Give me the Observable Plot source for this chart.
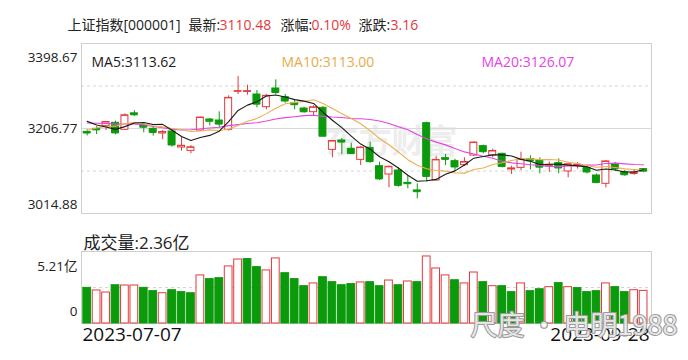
<!DOCTYPE html>
<html><head><meta charset="utf-8">
<script src="https://cdn.jsdelivr.net/npm/d3@7"></script>
<script src="https://cdn.jsdelivr.net/npm/@observablehq/plot@0.6"></script>
<style>
body{margin:0;background:#fff;}
#wrap{position:relative;width:688px;height:360px;overflow:hidden;}
#main,#vol{position:absolute;left:0;}
#main{top:0}
#vol{top:215px}
</style></head><body><div id="wrap"><div id="main"></div><div id="vol"></div></div>
<script>
const dates = ["2023-07-07","2023-07-10","2023-07-11","2023-07-12","2023-07-13","2023-07-14","2023-07-17","2023-07-18","2023-07-19","2023-07-20","2023-07-21","2023-07-24","2023-07-25","2023-07-26","2023-07-27","2023-07-28","2023-07-31","2023-08-01","2023-08-02","2023-08-03","2023-08-04","2023-08-07","2023-08-08","2023-08-09","2023-08-10","2023-08-11","2023-08-14","2023-08-15","2023-08-16","2023-08-17","2023-08-18","2023-08-21","2023-08-22","2023-08-23","2023-08-24","2023-08-25","2023-08-28","2023-08-29","2023-08-30","2023-08-31","2023-09-01","2023-09-04","2023-09-05","2023-09-06","2023-09-07","2023-09-08","2023-09-11","2023-09-12","2023-09-13","2023-09-14","2023-09-15","2023-09-18","2023-09-19","2023-09-20","2023-09-21","2023-09-22","2023-09-25","2023-09-26","2023-09-27","2023-09-28"];
const open = [3199,3206,3212,3219.6,3203.8,3241,3213.5,3206,3195.5,3200,3163.9,3156.3,3202.2,3227.1,3224.8,3203.8,3290.3,3289.5,3283.5,3254.9,3297.1,3277.5,3264,3251.9,3243.6,3253.4,3158.6,3179.7,3160.9,3136,3163.1,3121.7,3102.9,3111.9,3084,3067,3218.8,3089.4,3139.8,3133,3124,3145.8,3166.9,3145.8,3149.6,3114.2,3117.9,3137.5,3134.5,3121,3128.5,3109.7,3123,3117.2,3100.7,3081.9,3125.5,3108.2,3104,3115];
const high = [3204,3211,3222,3223.3,3239.9,3247,3220.3,3209.8,3202.2,3203.8,3187.2,3168.4,3232.4,3229.3,3244.4,3280.5,3324.2,3304.6,3292.6,3283.5,3316.6,3283.5,3271.5,3254.9,3257.9,3256.4,3179.7,3184.2,3173.7,3166.1,3175.9,3130.8,3122,3117.9,3100.7,3081.9,3221.1,3143.6,3148.1,3137.5,3140.6,3176.7,3169.1,3160.1,3151.1,3121.7,3153.3,3145.1,3140.6,3131,3138.3,3127,3130,3122,3104,3134,3130,3112,3112,3116];
const low = [3190,3193,3202,3192.5,3202.2,3234,3197,3189.5,3181.2,3164.6,3155.6,3149.6,3200.7,3212.8,3208.3,3200.7,3283.5,3282,3253.4,3248.9,3283.5,3264,3248.9,3241.4,3236.1,3188.7,3140.6,3148.1,3148.1,3123.2,3128.5,3089.4,3072.8,3074.3,3070.6,3048,3085.6,3087.9,3123.2,3110.4,3121,3143.6,3149.6,3140.6,3117.9,3102.9,3111.9,3113.4,3104.4,3108,3104.4,3095.4,3115,3104,3082,3072.8,3110,3099,3101,3107];
const close = [3196.6,3203.7,3221.4,3196.8,3236.5,3237.7,3209.6,3197.8,3198.8,3169.5,3167.8,3164.2,3231.5,3223.1,3216.7,3275.9,3291.04,3290.95,3261.7,3280.5,3288.1,3268.8,3260.6,3244.5,3254.6,3189.3,3178.4,3176.2,3150.1,3163.7,3132.0,3093.0,3120.3,3078.4,3082.2,3064.1,3098.6,3135.9,3137.1,3119.9,3131,3175,3154.4,3156,3121,3116.7,3137.1,3133.8,3119.5,3124,3117.7,3125.9,3125.0,3108.6,3084.7,3132.4,3115.6,3102.3,3107.3,3110.48];
// volume in 亿
const volume = [2.58,2.39,2.24,2.77,2.75,2.75,2.58,2.34,2.19,2.41,2.27,2.19,3.48,3.21,3.28,4.13,4.63,4.66,4.08,3.84,4.71,3.64,3.21,2.70,2.90,3.35,2.99,2.77,2.85,2.97,2.99,2.70,3.11,2.77,3.04,2.99,4.85,3.98,3.48,3.13,2.90,3.69,2.99,2.70,2.70,2.27,2.90,2.34,2.48,2.63,2.92,2.63,2.56,2.27,2.34,2.90,2.63,2.27,2.41,2.36];
// closes of the 19 sessions before the first shown day (for moving averages)
const priorCloses = [3213.6,3231.4,3228.8,3233.7,3229.0,3253.0,3273.3,3255.8,3240.4,3197.9,3150.6,3189.4,3189.3,3182.4,3202.1,3244.0,3245.4,3223.0,3205.2];
const yTicks = [3014.88,3206.77,3398.67];
const volTicks = ["5.21亿","0"];
const titleParts = ["上证指数[000001]","最新:","3110.48","涨幅:","0.10%","涨跌:","3.16"];
const maLabels = ["MA5:3113.62","MA10:3113.00","MA20:3126.07"];
const volLabel = "成交量:2.36亿";

const RED = "#e4393c", GREEN = "#0b9a0b";
const MA5C = "#1a1a1a", MA10C = "#ecb052", MA20C = "#e444e4";
const FONT = "'Open Sans','Noto Sans CJK SC',sans-serif";

const all = priorCloses.concat(close);
const P = priorCloses.length;
const ma = (n, k) => d3.mean(all.slice(P + k - n + 1, P + k + 1));
const data = dates.map((d, k) => ({
  i: k + 1, date: d, open: open[k], high: high[k], low: low[k], close: close[k],
  vol: volume[k],
  up: close[k] >= open[k],
  volUp: close[k] >= all[P + k - 1],
  ma5: ma(5, k), ma10: ma(10, k), ma20: ma(20, k)
}));

const xDom = [0.396, 60.837];
const yLo = yTicks[0], yHi = yTicks[2], yMid = yTicks[1];
const q1 = yLo + (yHi - yLo) / 4, q3 = yLo + 3 * (yHi - yLo) / 4;
const BW = 0.37;

const main = Plot.plot({
  width: 688, height: 220,
  marginTop: 43, marginBottom: 7, marginLeft: 81, marginRight: 37,
  x: {domain: xDom, axis: null},
  y: {domain: [yLo, yHi], axis: null},
  color: {type: "identity"},
  style: {fontFamily: FONT, background: "#fff", overflow: "visible"},
  marks: [
    Plot.text(["东方财富"], {frameAnchor: "top-left", dx: 244, dy: 86, textAnchor: "start", fontSize: 33, fontWeight: "bold", fill: "#ededed", fontFamily: "'Noto Sans CJK SC'"}),
    Plot.ruleY([q1, q3], {stroke: "#d4d4d4", strokeDasharray: "3,3"}),
    Plot.ruleY([yMid], {stroke: "#d8d8d8"}),
    Plot.frame({stroke: "#cfcfcf"}),
    Plot.ruleX(data, {x: "i", y1: "low", y2: "high", stroke: d => d.up ? RED : GREEN}),
    Plot.rect(data, {x1: d => d.i - BW, x2: d => d.i + BW, y1: d => Math.min(d.open, d.close), y2: d => Math.max(d.open, d.close),
      fill: d => d.up ? "#fff" : GREEN, stroke: d => d.up ? RED : GREEN}),
    Plot.ruleY(data, {y: "close", x1: d => d.i - BW, x2: d => d.i + BW, stroke: d => d.up ? RED : GREEN}),
    Plot.line(data, {x: "i", y: "ma20", stroke: MA20C, strokeWidth: 1.1}),
    Plot.line(data, {x: "i", y: "ma10", stroke: MA10C, strokeWidth: 1.1}),
    Plot.line(data, {x: "i", y: "ma5", stroke: MA5C, strokeWidth: 1.1}),
    Plot.text([yTicks[2]], {y: d => d, text: d => d.toFixed(2), frameAnchor: "left", dx: -4, dy: 14, textAnchor: "end", fontSize: 13.5, fill: "#222"}),
    Plot.text([yTicks[1]], {y: d => d, text: d => d.toFixed(2), frameAnchor: "left", dx: -4, dy: 0, textAnchor: "end", fontSize: 13.5, fill: "#222"}),
    Plot.text([yTicks[0]], {y: d => d, text: d => d.toFixed(2), frameAnchor: "left", dx: -4, dy: -9, textAnchor: "end", fontSize: 13.5, fill: "#222"}),
    Plot.text([maLabels[0]], {text: d => d, frameAnchor: "top-left", dx: 10, dy: 14, textAnchor: "start", fontSize: 14, fill: MA5C}),
    Plot.text([maLabels[1]], {text: d => d, frameAnchor: "top-left", dx: 200, dy: 14, textAnchor: "start", fontSize: 14, fill: "#e8ac48"}),
    Plot.text([maLabels[2]], {text: d => d, frameAnchor: "top-left", dx: 400, dy: 14, textAnchor: "start", fontSize: 14, fill: MA20C}),
    ...[[0, -14, "#222"], [1, 107, "#222"], [2, 138, RED], [3, 199, "#222"], [4, 230, RED], [5, 277, "#222"], [6, 309, RED]].map(([k, dx, c]) =>
      Plot.text([titleParts[k]], {text: d => d, frameAnchor: "top-left", dx, dy: -23, textAnchor: "start", fontSize: 14, fill: c}))
  ]
});
document.getElementById("main").appendChild(main);

const vol = Plot.plot({
  width: 688, height: 145,
  marginTop: 36, marginBottom: 37, marginLeft: 81, marginRight: 37,
  x: {domain: xDom, axis: null},
  y: {domain: [0, 5.21], axis: null},
  color: {type: "identity"},
  style: {fontFamily: FONT, background: "transparent", overflow: "visible"},
  marks: [
    Plot.ruleY([5.21 / 2], {stroke: "#d4d4d4", strokeDasharray: "3,3"}),
    Plot.frame({stroke: "#cfcfcf"}),
    Plot.rect(data, {x1: d => d.i - 0.41, x2: d => d.i + 0.41, y1: 0, y2: "vol",
      fill: d => d.volUp ? "#fff" : GREEN, stroke: d => d.volUp ? RED : GREEN}),
    Plot.text([volLabel], {text: d => d, frameAnchor: "top-left", dx: 2, dy: -15, textAnchor: "start", fontSize: 17, fill: "#222"}),
    Plot.text([volTicks[0]], {text: d => d, frameAnchor: "top-left", dx: -4, dy: 10, textAnchor: "end", fontSize: 13.5, fill: "#222"}),
    Plot.text([volTicks[1]], {text: d => d, frameAnchor: "bottom-left", dx: -4, dy: -8, textAnchor: "end", fontSize: 13.5, fill: "#222"}),
    Plot.text([dates[0]], {text: d => d, frameAnchor: "bottom-left", dx: 1, dy: 17, textAnchor: "start", fontSize: 19, fill: "#111"}),
    Plot.text([dates[dates.length - 1]], {text: d => d, frameAnchor: "bottom-right", dx: -2, dy: 17, textAnchor: "end", fontSize: 19, fill: "#111"}),
    Plot.text(["尺度 · 电明1988"], {text: d => d, frameAnchor: "bottom-right", dx: 26, dy: 11, textAnchor: "end", fontSize: 27,
      fill: "rgba(255,255,255,0.75)", stroke: "#9a9a9a", strokeWidth: 2, fontFamily: "'Noto Sans CJK SC'"})
  ]
});
document.getElementById("vol").appendChild(vol);
</script>
</body></html>
